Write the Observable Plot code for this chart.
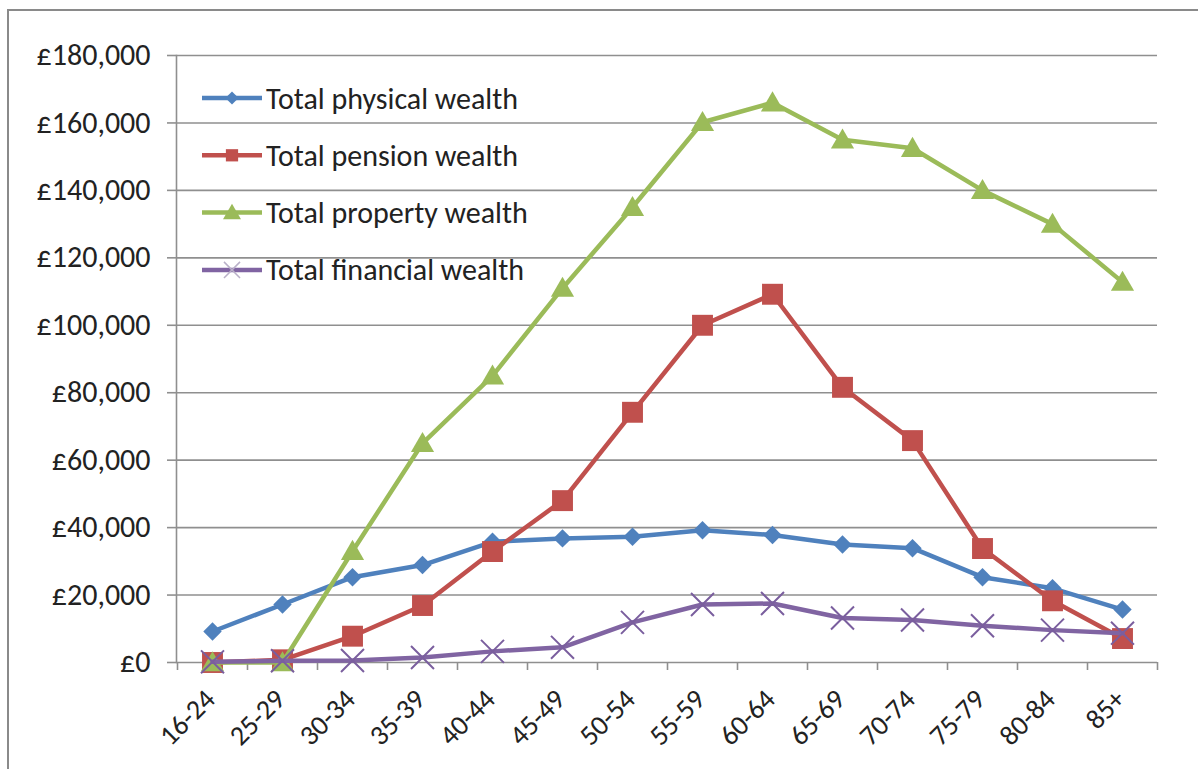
<!DOCTYPE html>
<html>
<head>
<meta charset="utf-8">
<script src="https://cdn.jsdelivr.net/npm/d3@7"></script>
<script src="https://cdn.jsdelivr.net/npm/@observablehq/plot@0.6"></script>
<style>
  html, body { margin: 0; padding: 0; background: #fff; }
  #wrap { position: relative; width: 1198px; height: 769px; overflow: hidden; background: #fff; }
  #border { position: absolute; left: 7px; top: 9px; width: 1260px; height: 820px; border: 2px solid #8a8a8a; box-sizing: border-box; }
  #chart { position: absolute; left: 0; top: 0; }
  svg text { font-family: Carlito, Calibri, Lato, "Open Sans", sans-serif; }
</style>
</head>
<body>
<div id="wrap"><div id="border"></div><div id="chart"></div></div>
<script>
const ages = ["16-24","25-29","30-34","35-39","40-44","45-49","50-54","55-59","60-64","65-69","70-74","75-79","80-84","85+"];
const physical  = [9200, 17200, 25300, 28900, 35800, 36800, 37300, 39200, 37800, 35000, 33900, 25300, 22000, 15700];
const pension   = [0, 800, 7800, 16900, 32900, 48000, 74200, 100000, 109200, 81600, 65800, 33800, 18300, 7100];
const property  = [0, 0, 33000, 65000, 85000, 111000, 135000, 160200, 166000, 155000, 152500, 140000, 130000, 112800];
const financial = [200, 500, 600, 1500, 3300, 4500, 11900, 17200, 17500, 13200, 12600, 10900, 9600, 8700];
const seriesNames = ["Total physical wealth","Total pension wealth","Total property wealth","Total financial wealth"];
const seriesColors = ["#4F81BD","#C0504D","#9BBB59","#8064A2"];
const yTicks = [0,20000,40000,60000,80000,100000,120000,140000,160000,180000];

const seriesValues = [physical, pension, property, financial];
const rows = [];
seriesValues.forEach((vals, s) => vals.forEach((v, i) => rows.push({series: seriesNames[s], age: ages[i], value: v})));
const bySeries = name => rows.filter(r => r.series === name);

const symbols = [
  {symbol: "diamond2", r: 8.3, fill: seriesColors[0], stroke: "none", dy: 0},
  {symbol: "square", r: 11.8, fill: seriesColors[1], stroke: "none", dy: 0},
  {symbol: "triangle", r: 8.6, fill: seriesColors[2], stroke: "none", dy: 2},
  {symbol: "times", r: 10.5, fill: "none", stroke: "#7a5e9e", dy: 0}
];

const seriesMarks = [];
seriesNames.forEach((name, s) => {
  seriesMarks.push(Plot.line(bySeries(name), {x: "age", y: "value", stroke: seriesColors[s], strokeWidth: 4.5, strokeLinejoin: "round"}));
  const sy = symbols[s];
  seriesMarks.push(Plot.dot(bySeries(name), {x: "age", y: "value", symbol: sy.symbol, r: sy.r, fill: sy.fill, stroke: sy.stroke, strokeWidth: 2, dy: sy.dy}));
});

function legendMark(index, scales, values, dimensions) {
  const g = d3.create("svg:g").attr("text-anchor", "start");
  const x0 = dimensions.marginLeft + 26, y0 = dimensions.marginTop + 43, rowH = 57.3;
  const syms = [d3.symbolDiamond2, d3.symbolSquare, d3.symbolTriangle, d3.symbolTimes];
  const sizes = [110, 150, 140, 170];
  seriesNames.forEach((name, i) => {
    const y = y0 + i * rowH;
    g.append("line").attr("x1", x0).attr("x2", x0 + 60).attr("y1", y).attr("y2", y)
      .attr("stroke", seriesColors[i]).attr("stroke-width", 4.5);
    const p = g.append("path").attr("d", d3.symbol(syms[i], sizes[i])())
      .attr("transform", `translate(${x0 + 30},${y + (i === 2 ? 1.5 : 0)})`);
    if (i === 3) p.attr("fill", "none").attr("stroke", "#b9b0c8").attr("stroke-width", 1.5);
    else p.attr("fill", seriesColors[i]);
    g.append("text").attr("x", x0 + 64).attr("y", y).attr("dy", "0.35em")
      .attr("text-anchor", "start").attr("font-size", 30).attr("fill", "#222").text(name);
  });
  return g.node();
}

const chart = Plot.plot({
  width: 1198,
  height: 769,
  marginLeft: 176,
  marginRight: 41,
  marginTop: 55,
  marginBottom: 107,
  style: {background: "transparent", color: "#222", fontFamily: "Carlito, Calibri, Lato, sans-serif"},
  x: {type: "point", domain: ages, padding: 0.5, label: null},
  y: {domain: [0, 180000], label: null},
  marks: [
    Plot.gridY(yTicks, {stroke: "#8f8f8f", strokeOpacity: 1, strokeWidth: 1.6}),
    Plot.frame({anchor: "left", stroke: "#8f8f8f", strokeWidth: 1.6}),
    Plot.axisY(yTicks, {tickSize: 9, tickPadding: 17, stroke: "#8f8f8f", strokeWidth: 1.6, fill: "#222", fontSize: 30, tickFormat: d => "£" + d3.format(",")(d), label: null}),
    Plot.axisX({tickSize: 8, stroke: "#8f8f8f", strokeWidth: 1.6, dx: -35, tickFormat: () => "", label: null}),
    Plot.axisX(["85+"], {tickSize: 8, stroke: "#8f8f8f", strokeWidth: 1.6, dx: 35, tickFormat: () => "", label: null}),
    Plot.axisX({tickSize: 0, tickRotate: -45, fontSize: 28, fill: "#222", tickPadding: 12, dx: -2, dy: 20, label: null}),
    ...seriesMarks,
    legendMark
  ]
});
document.getElementById("chart").appendChild(chart);
</script>
</body>
</html>
